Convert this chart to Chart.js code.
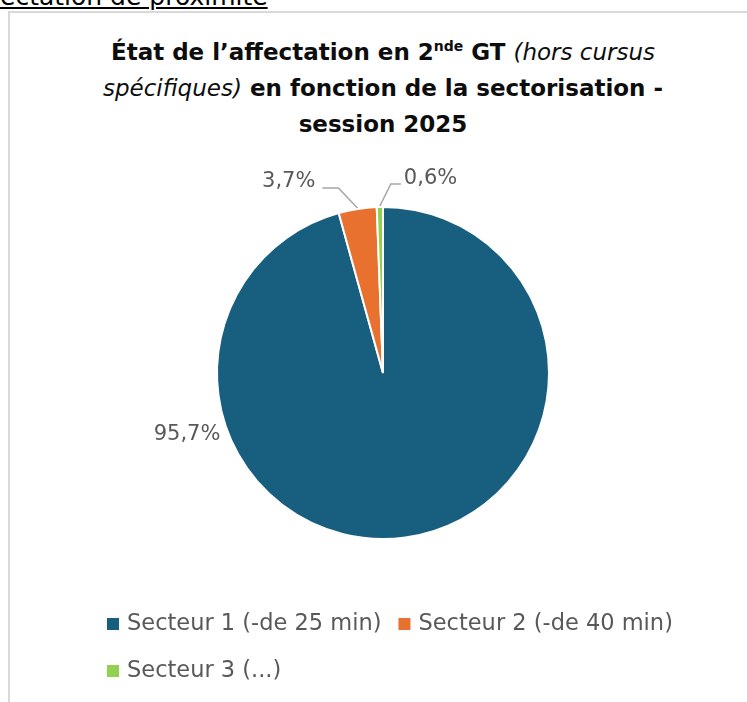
<!DOCTYPE html>
<html>
<head>
<meta charset="utf-8">
<script src="https://cdn.jsdelivr.net/npm/chart.js@4"></script>
<style>
  html, body { margin: 0; padding: 0; background: #fff; width: 747px; height: 702px; overflow: hidden; }
  #top { position: absolute; left: 0; top: -18px; font: 25px "DejaVu Sans", sans-serif; color: #000; text-decoration: underline; white-space: nowrap; }
  #frame { position: absolute; left: 8px; top: 11px; width: 760px; height: 720px; border-left: 2px solid #d9d9d9; border-top: 2px solid #d9d9d9; }
  #title { position: absolute; left: 0; width: 766px; top: 34px; text-align: center; font: bold 23px "DejaVu Sans", sans-serif; line-height: 36px; color: #0d0d0d; }
  #title i { font-weight: normal; }
  #title sup { font-size: 14px; line-height: 0; vertical-align: 9px; }
  canvas { position: absolute; left: 0; top: 0; }
</style>
</head>
<body>
<div id="top">ectation de proximité</div>
<div id="frame"></div>
<div id="title">État de l’affectation en 2<sup>nde</sup> GT <i>(hors cursus<br>spécifiques)</i> en fonction de la sectorisation -<br>session 2025</div>
<canvas id="c" width="747" height="702"></canvas>
<script>
const categories = ['Secteur 1 (-de 25 min)', 'Secteur 2 (-de 40 min)', 'Secteur 3 (...)'];
const values = [95.7, 3.7, 0.6];
const valueLabels = ['95,7%', '3,7%', '0,6%'];
const colors = ['#175e7f', '#e9712f', '#92d050'];

const labelFont = '21px "DejaVu Sans", sans-serif';
const legendFont = '22.5px "DejaVu Sans", sans-serif';
const textColor = '#595959';

// label placement (style): anchor angle override, leader elbows, text offset
const labelPlacement = [
  { angleDeg: 159, radialGap: 6, leader: null, align: 'right', textOffset: [-2, 0] },
  { angleDeg: null, radialGap: 1, leader: [[-19, -20], [-16, 0]], align: 'right', textOffset: [-7, -6] },
  { angleDeg: null, radialGap: 1, leader: [[11, -22], [10, 0]], align: 'left', textOffset: [3, -5] }
];

const labelsPlugin = {
  id: 'sliceLabels',
  afterDatasetsDraw(chart) {
    const ctx = chart.ctx;
    const meta = chart.getDatasetMeta(0);
    ctx.save();
    ctx.font = labelFont;
    ctx.fillStyle = textColor;
    ctx.textBaseline = 'middle';
    meta.data.forEach((arc, i) => {
      const p = labelPlacement[i];
      const { x, y, outerRadius, startAngle, endAngle } = arc.getProps(['x', 'y', 'outerRadius', 'startAngle', 'endAngle'], true);
      const ang = p.angleDeg !== null ? p.angleDeg * Math.PI / 180 : (startAngle + endAngle) / 2;
      const r = outerRadius + p.radialGap;
      let px = x + Math.cos(ang) * r;
      let py = y + Math.sin(ang) * r;
      if (p.leader) {
        ctx.beginPath();
        ctx.strokeStyle = '#a6a6a6';
        ctx.lineWidth = 1.5;
        ctx.moveTo(px, py);
        p.leader.forEach(([dx, dy]) => { px += dx; py += dy; ctx.lineTo(px, py); });
        ctx.stroke();
      }
      ctx.textAlign = p.align;
      ctx.fillText(valueLabels[i], px + p.textOffset[0], py + p.textOffset[1]);
    });
    ctx.restore();
  }
};

const legendPlugin = {
  id: 'customLegend',
  afterDraw(chart) {
    const ctx = chart.ctx;
    ctx.save();
    ctx.font = legendFont;
    ctx.textBaseline = 'middle';
    const startX = 107, maxX = 720, box = 12, boxGap = 8, itemGap = 17, rowH = 47;
    let x = startX, y = 624;
    categories.forEach((cat, i) => {
      const w = box + boxGap + ctx.measureText(cat).width;
      if (x > startX && x + w > maxX) { x = startX; y += rowH; }
      ctx.fillStyle = colors[i];
      ctx.fillRect(x, y - box / 2, box, box);
      ctx.fillStyle = textColor;
      ctx.textAlign = 'left';
      ctx.fillText(cat, x + box + boxGap, y);
      x += w + itemGap;
    });
    ctx.restore();
  }
};

new Chart(document.getElementById('c'), {
  type: 'pie',
  data: {
    labels: categories,
    datasets: [{
      data: values,
      backgroundColor: colors,
      borderColor: '#ffffff',
      borderWidth: 2
    }]
  },
  options: {
    responsive: false,
    animation: false,
    layout: { padding: { top: 206, bottom: 162, left: 216, right: 197 } },
    plugins: { legend: { display: false }, title: { display: false }, tooltip: { enabled: false } }
  },
  plugins: [labelsPlugin, legendPlugin]
});
</script>
</body>
</html>
